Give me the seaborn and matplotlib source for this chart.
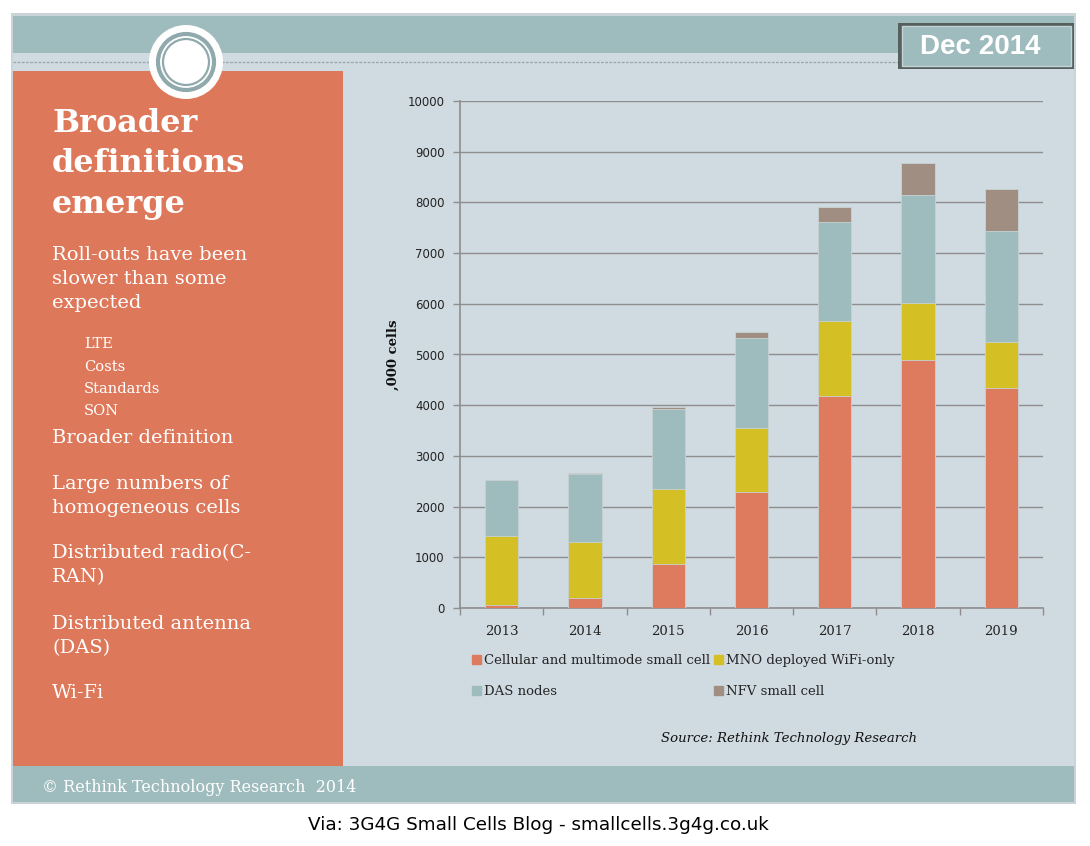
import numpy as np
import pandas as pd
import matplotlib
matplotlib.use("Agg")
import matplotlib.pyplot as plt
import seaborn as sns
from matplotlib.patches import Rectangle, Ellipse, Patch
from matplotlib.lines import Line2D

# data ('000 cells)
years = ["2013", "2014", "2015", "2016", "2017", "2018", "2019"]
cellular = [50, 190, 865, 2290, 4185, 4890, 4335]
wifi_only = [1370, 1110, 1480, 1265, 1470, 1135, 910]
das_nodes = [1110, 1340, 1580, 1770, 1960, 2115, 2200]
nfv_cell = [0, 20, 35, 120, 300, 645, 820]
series_names = ["Cellular and multimode small cell", "MNO deployed WiFi-only",
                "DAS nodes", "NFV small cell"]
series_colors = ["#DE7A5E", "#D4BF24", "#9EBBBD", "#A08E82"]
y_ticks = [0, 1000, 2000, 3000, 4000, 5000, 6000, 7000, 8000, 9000, 10000]

W, H = 1090, 846
SERIF = "DejaVu Serif"

sns.set_theme(style="white")
plt.rcParams["font.family"] = ["DejaVu Sans"]

fig = plt.figure(figsize=(W / 100, H / 100), dpi=100)
fig.patch.set_facecolor("white")


def fx(x):
    return x / W


def fy(y):
    return 1 - y / H


def rect(x0, y0, x1, y1, z=-5, **kw):
    fig.patches.append(Rectangle((fx(x0), fy(y1)), (x1 - x0) / W, (y1 - y0) / H,
                                 transform=fig.transFigure, zorder=z, **kw))


def txt(x, y, s, **kw):
    fig.text(fx(x), fy(y), s, **kw)


# slide background
rect(11, 13, 1076, 804, facecolor="#C9D3D8", edgecolor="none")
rect(13, 16, 1074, 802, facecolor="#D0DBE1", edgecolor="none")
rect(13, 16, 1074, 53, facecolor="#9EBBBD", edgecolor="none")
rect(13, 766, 1074, 802, facecolor="#9EBBBD", edgecolor="none")
fig.lines.append(Line2D([fx(13), fx(898)], [fy(62), fy(62)], transform=fig.transFigure,
                        color="#9AA9AD", lw=1, ls=(0, (2, 1)), zorder=-4))
rect(13, 71, 343, 766, facecolor="#DE785B", edgecolor="none")

# ring ornament
for r, fc, ec, lw in [(37, "white", "none", 0), (28, "white", "#8FA9AC", 3),
                      (23, "white", "#8FA9AC", 1.6)]:
    fig.patches.append(Ellipse((fx(186), fy(62)), 2 * r / W, 2 * r / H,
                               transform=fig.transFigure, facecolor=fc,
                               edgecolor=ec, lw=lw, zorder=-3))

# date badge
rect(898, 23, 1074, 69, z=-3, facecolor="#55605F", edgecolor="none")
rect(902, 26, 1071, 66, z=-2, facecolor="#9EBBBD", edgecolor="#C5D3D4", lw=1)
txt(980, 47, "Dec 2014", color="white", fontsize=20, fontweight="bold",
    family=["Liberation Sans"], ha="center", va="center")

# left panel text
for i, s in enumerate(["Broader", "definitions", "emerge"]):
    txt(52, 123 + i * 40.5, s, color="white", fontsize=23, fontweight="bold",
        family=SERIF, va="center")
body = [(52, 255, "Roll-outs have been", 14), (52, 279, "slower than some", 14),
        (52, 303, "expected", 14),
        (84, 344, "LTE", 10.5), (84, 367, "Costs", 10.5), (84, 389, "Standards", 10.5),
        (84, 411, "SON", 10.5),
        (52, 438, "Broader definition", 14),
        (52, 484, "Large numbers of", 14), (52, 508, "homogeneous cells", 14),
        (52, 553, "Distributed radio(C-", 14), (52, 577, "RAN)", 14),
        (52, 624, "Distributed antenna", 14), (52, 648, "(DAS)", 14),
        (52, 693, "Wi-Fi", 14)]
for x, y, s, size in body:
    txt(x, y, s, color="white", fontsize=size, family=SERIF, va="center")

txt(42, 787, "\u00a9 Rethink Technology Research  2014", color="white", fontsize=11.5,
    family=SERIF, va="center")
txt(538, 825, "Via: 3G4G Small Cells Blog - smallcells.3g4g.co.uk", color="black",
    fontsize=13.2, ha="center", va="center")

# chart
ax = fig.add_axes([fx(460), fy(608), (1043 - 460) / W, (608 - 101) / H])
ax.set_zorder(5)
ax.set_facecolor("none")

df = pd.DataFrame({"year": years, "cellular": cellular, "wifi": wifi_only,
                   "das": das_nodes, "nfv": nfv_cell})
layers = ["cellular", "wifi", "das", "nfv"]
cum = df[layers].cumsum(axis=1)
for col, color in reversed(list(zip(layers, series_colors))):
    sns.barplot(x=df["year"], y=cum[col], color=color, width=0.4, ax=ax,
                edgecolor="#C8D2D4", linewidth=0.6, saturation=1, zorder=3)

ax.set_ylim(0, 10000)
ax.set_xlim(-0.5, 6.5)
ax.set_yticks(y_ticks)
ax.set_yticklabels([str(v) for v in y_ticks], fontsize=8.5, color="#222222")
ax.yaxis.grid(True, color="#8E8E8E", lw=1, zorder=0)
ax.xaxis.grid(False)
ax.set_axisbelow(True)
ax.set_xticks(range(len(years)))
ax.set_xticklabels(years, family=SERIF, fontsize=9.5, color="#222222")
ax.set_xticks(np.arange(-0.5, 7, 1), minor=True)
ax.tick_params(axis="x", which="major", length=0, pad=12)
ax.tick_params(axis="x", which="minor", length=5, color="#8E8E8E", width=1, bottom=True)
ax.tick_params(axis="y", length=5, color="#8E8E8E", width=1, left=True, pad=6)
for side in ["top", "right"]:
    ax.spines[side].set_visible(False)
for side in ["left", "bottom"]:
    ax.spines[side].set_color("#8E8E8E")
    ax.spines[side].set_linewidth(1.2)
ax.set_xlabel("")
ax.set_ylabel(",000 cells", family=SERIF, fontweight="bold", fontsize=9.5,
              color="#111111", labelpad=6)

handles = [Patch(color=c, label=n) for n, c in zip(series_names, series_colors)]
order = [0, 2, 1, 3]
fig.legend([handles[i] for i in order], [series_names[i] for i in order],
           ncol=2, loc="upper left", bbox_to_anchor=(fx(472), fy(654)),
           frameon=False, prop={"family": SERIF, "size": 9.5},
           handlelength=0.65, handleheight=0.65, handletextpad=0.25,
           columnspacing=0.3, labelspacing=1.4, borderaxespad=0, borderpad=0)

txt(789, 738, "Source: Rethink Technology Research", family=SERIF, style="italic",
    fontsize=9.5, ha="center", va="center", color="#111111")

fig.savefig("out.png", dpi=100)
